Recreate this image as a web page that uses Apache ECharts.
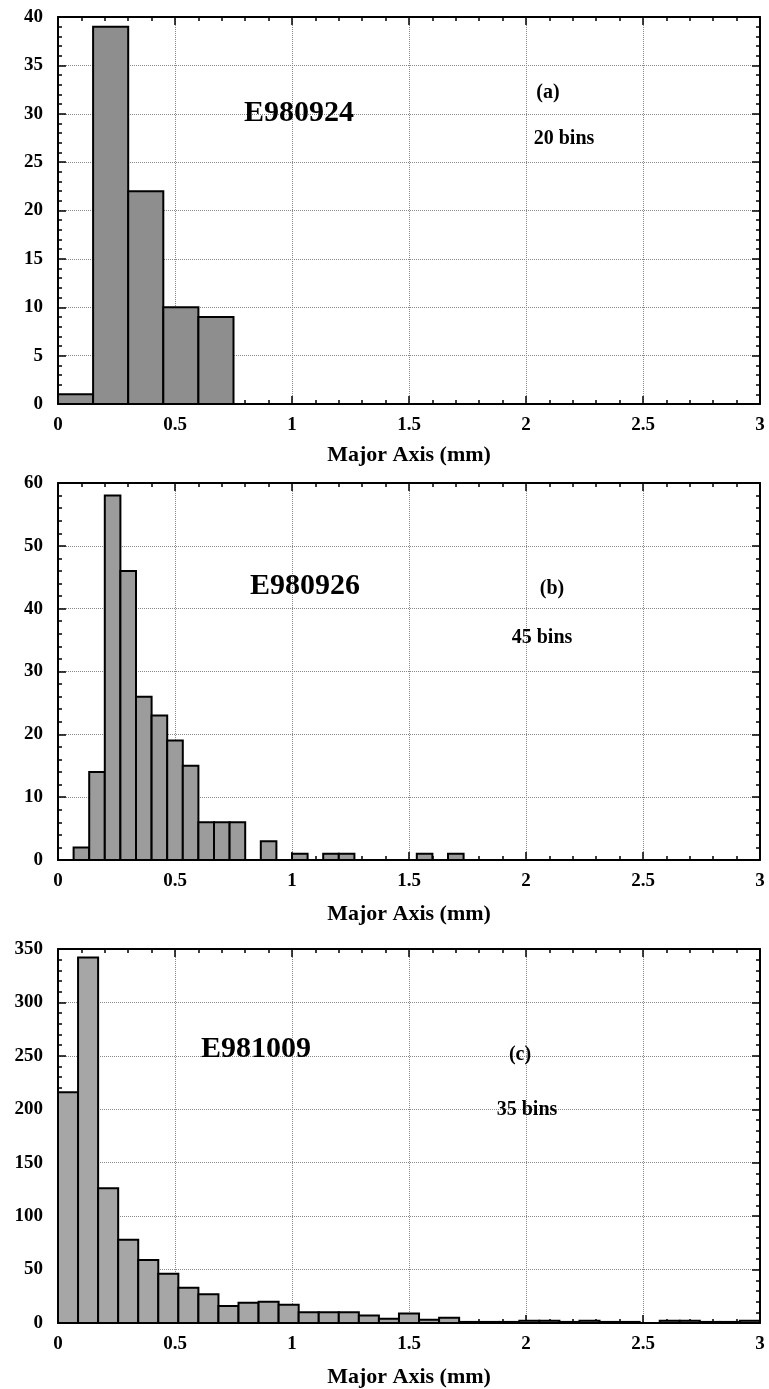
<!DOCTYPE html>
<html>
<head>
<meta charset="utf-8">
<script src="https://cdn.jsdelivr.net/npm/echarts@6/dist/echarts.min.js"></script>
<style>
html,body{margin:0;padding:0;background:#fff;}
#chart{width:769px;height:1389px;}
</style>
</head>
<body>
<div id="chart"></div>
<script>
// bin counts, range 0..3 mm
var countsA = [1, 39, 22, 10, 9, 0, 0, 0, 0, 0, 0, 0, 0, 0, 0, 0, 0, 0, 0, 0];
var countsB = [0, 2, 14, 58, 46, 26, 23, 19, 15, 6, 6, 6, 0, 3, 0, 1, 0, 1, 1, 0,
	0, 0, 0, 1, 0, 1, 0, 0, 0, 0, 0, 0, 0, 0, 0, 0, 0, 0, 0, 0, 0, 0, 0, 0, 0];
var countsC = [216, 342, 126, 78, 59, 46, 33, 27, 16, 19, 20, 17, 10, 10, 10, 7, 4, 9, 3, 5,
	1, 1, 1, 2, 2, 1, 2, 1, 1, 0, 2, 2, 1, 1, 2];
var runNames = ['E980924', 'E980926', 'E981009'];
var panelTags = ['(a)', '(b)', '(c)'];
var binLabels = ['20 bins', '45 bins', '35 bins'];
var yMax = [40, 60, 350];
var yStep = [5, 10, 50];
var xMin = 0, xMax = 3, xStep = 0.5;

var FONT = '"Liberation Serif", "Times New Roman", serif';
var chart = echarts.init(document.getElementById('chart'));

var panels = [
	{counts: countsA, top: 17, height: 387, fill: '#8e8e8e'},
	{counts: countsB, top: 483, height: 377, fill: '#9c9c9c'},
	{counts: countsC, top: 949, height: 377, fill: '#a6a6a6'}
];
// text spots [name x,y] [tag x,y] [bins x,y]
var textPos = [
	[[299, 113], [548, 93], [564, 139]],
	[[305, 586], [552, 589], [542, 638]],
	[[256, 1049], [520, 1055], [527, 1110]]
];

var grids = [], xAxes = [], yAxes = [], series = [], graphics = [];

function tickCfg(len){
	return {show: true, inside: true, length: len, lineStyle: {color: '#000', width: 1.5}};
}

panels.forEach(function(p, k){
	grids.push({left: 58, right: 9, top: p.top, height: p.height});
	var label = {color: '#000', fontFamily: FONT, fontWeight: 'bold', fontSize: 19};
	// bottom axis
	xAxes.push({
		type: 'value', gridIndex: k, min: xMin, max: xMax, interval: xStep,
		name: 'Major Axis (mm)', nameLocation: 'middle', nameGap: k == 0 ? 40 : 43,
		nameTextStyle: {color: '#000', fontFamily: FONT, fontWeight: 'bold', fontSize: 22},
		axisLine: {show: true, onZero: false, lineStyle: {color: '#000', width: 2}},
		axisTick: tickCfg(8),
		minorTick: {show: true, splitNumber: 5, length: 4, lineStyle: {color: '#000', width: 1.5}},
		axisLabel: Object.assign({margin: 12, formatter: function(v){ return String(v); }}, label),
		splitLine: {show: true, lineStyle: {color: '#888', type: 'dotted', width: 1}}
	});
	// top mirror
	xAxes.push({
		type: 'value', gridIndex: k, position: 'top', min: xMin, max: xMax, interval: xStep,
		axisLine: {show: true, onZero: false, lineStyle: {color: '#000', width: 2}},
		axisTick: tickCfg(8),
		minorTick: {show: true, splitNumber: 5, length: 4, lineStyle: {color: '#000', width: 1.5}},
		axisLabel: {show: false},
		splitLine: {show: false}
	});
	yAxes.push({
		type: 'value', gridIndex: k, min: 0, max: yMax[k], interval: yStep[k],
		axisLine: {show: true, onZero: false, lineStyle: {color: '#000', width: 2}},
		axisTick: tickCfg(8),
		minorTick: {show: true, splitNumber: 5, length: 4, lineStyle: {color: '#000', width: 1.5}},
		axisLabel: Object.assign({margin: 15}, label),
		splitLine: {show: true, lineStyle: {color: '#888', type: 'dotted', width: 1}}
	});
	yAxes.push({
		type: 'value', gridIndex: k, position: 'right', min: 0, max: yMax[k], interval: yStep[k],
		axisLine: {show: true, onZero: false, lineStyle: {color: '#000', width: 2}},
		axisTick: tickCfg(8),
		minorTick: {show: true, splitNumber: 5, length: 4, lineStyle: {color: '#000', width: 1.5}},
		axisLabel: {show: false},
		splitLine: {show: false}
	});

	var w = (xMax - xMin) / p.counts.length;
	var data = p.counts.map(function(c, i){ return [xMin + i * w, xMin + (i + 1) * w, c]; });
	series.push({
		type: 'custom',
		xAxisIndex: k * 2,
		yAxisIndex: k * 2,
		encode: {x: [0, 1], y: 2},
		data: data,
		z: 5,
		clip: true,
		renderItem: function(params, api){
			var v = api.value(2);
			if (!v) return;
			var a = api.coord([api.value(0), v]);
			var b = api.coord([api.value(1), 0]);
			return {
				type: 'rect',
				shape: {x: a[0], y: a[1], width: b[0] - a[0], height: b[1] - a[1]},
				style: {fill: p.fill, stroke: '#000', lineWidth: 2}
			};
		}
	});

	var tp = textPos[k];
	graphics.push({type: 'text', x: tp[0][0], y: tp[0][1], z: 10,
		style: {text: runNames[k], font: 'bold 30px ' + FONT, fill: '#000', align: 'center', verticalAlign: 'middle'}});
	graphics.push({type: 'text', x: tp[1][0], y: tp[1][1], z: 10,
		style: {text: panelTags[k], font: 'bold 20px ' + FONT, fill: '#000', align: 'center', verticalAlign: 'middle'}});
	graphics.push({type: 'text', x: tp[2][0], y: tp[2][1], z: 10,
		style: {text: binLabels[k], font: 'bold 20px ' + FONT, fill: '#000', align: 'center', verticalAlign: 'middle'}});
});

var option = {
	backgroundColor: '#fff',
	animation: false,
	grid: grids,
	xAxis: xAxes,
	yAxis: yAxes,
	series: series,
	graphic: graphics
};
chart.setOption(option);
</script>
</body>
</html>
